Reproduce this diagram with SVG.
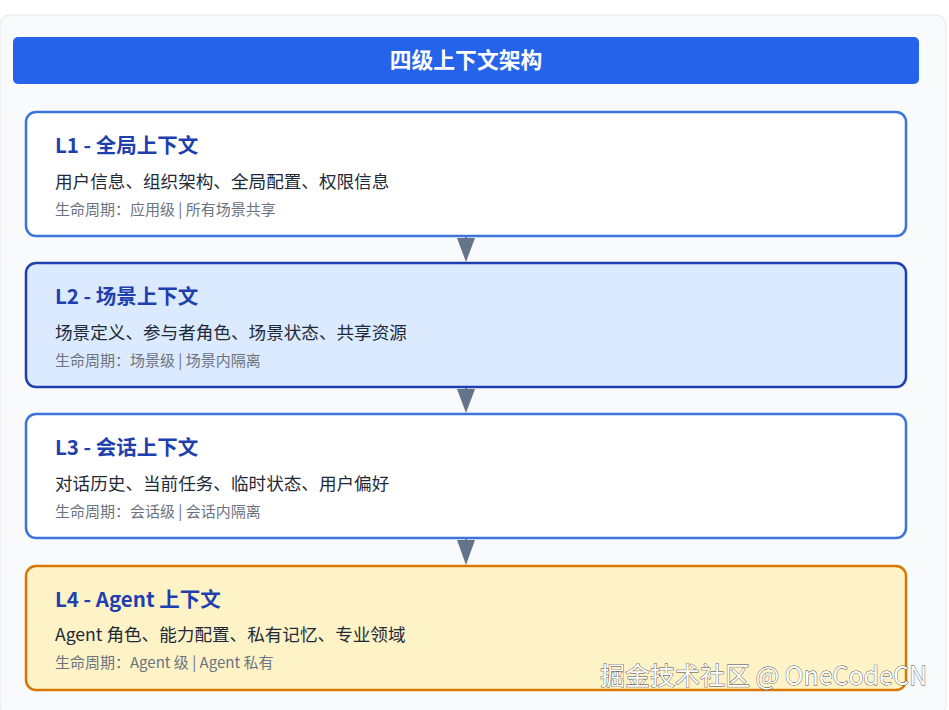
<svg xmlns="http://www.w3.org/2000/svg" width="949" height="710" viewBox="0 0 949 710">
<defs>
<style>
.t{font-family:"Noto Sans CJK SC","Noto Sans",sans-serif;font-size:20.5px;font-weight:700;fill:#1e40af}
.b{font-family:"Noto Sans CJK SC","Noto Sans",sans-serif;font-size:17.6px;fill:#1f2937}
.s{font-family:"Noto Sans CJK SC","Noto Sans",sans-serif;font-size:15px;fill:#6b7280}
.box{stroke-width:2.5}
.arr{fill:#64748b}
</style>
</defs>
<rect x="0" y="15" width="946" height="700" rx="10" fill="#f9fafb" stroke="#e5e7eb" stroke-width="1"/>
<g id="header">
<rect x="13" y="37" width="906" height="47" rx="5" fill="#2563eb"/>
<text x="466" y="68" text-anchor="middle" font-family="'Noto Sans CJK SC',sans-serif" font-size="21.8" font-weight="700" fill="#ffffff">四级上下文架构</text>
</g>
<g id="connectors">
<line x1="466" y1="237" x2="466" y2="245" stroke="#64748b" stroke-width="2"/>
<polygon class="arr" points="457,238 475,238 466,262"/>
<line x1="466" y1="388" x2="466" y2="396" stroke="#64748b" stroke-width="2"/>
<polygon class="arr" points="457,389 475,389 466,413"/>
<line x1="466" y1="539" x2="466" y2="547" stroke="#64748b" stroke-width="2"/>
<polygon class="arr" points="457,540 475,540 466,565"/>
</g>
<g id="L1">
<rect class="box" x="26" y="112" width="880" height="124" rx="10" fill="#ffffff" stroke="#3b74db"/>
<text class="t" x="55" y="153">L1 - 全局上下文</text>
<text class="b" x="55" y="188">用户信息、组织架构、全局配置、权限信息</text>
<text class="s" x="55" y="215">生命周期：应用级 | 所有场景共享</text>
</g>
<g id="L2">
<rect class="box" x="26" y="263" width="880" height="124" rx="10" fill="#dbeafe" stroke="#1e40af"/>
<text class="t" x="55" y="304">L2 - 场景上下文</text>
<text class="b" x="55" y="339">场景定义、参与者角色、场景状态、共享资源</text>
<text class="s" x="55" y="366">生命周期：场景级 | 场景内隔离</text>
</g>
<g id="L3">
<rect class="box" x="26" y="414" width="880" height="124" rx="10" fill="#ffffff" stroke="#3b74db"/>
<text class="t" x="55" y="455">L3 - 会话上下文</text>
<text class="b" x="55" y="490">对话历史、当前任务、临时状态、用户偏好</text>
<text class="s" x="55" y="517">生命周期：会话级 | 会话内隔离</text>
</g>
<g id="L4">
<rect class="box" x="26" y="566" width="880" height="124" rx="10" fill="#fef3c7" stroke="#d97706"/>
<text class="t" x="55" y="607">L4 - Agent 上下文</text>
<text class="b" x="55" y="641">Agent 角色、能力配置、私有记忆、专业领域</text>
<text class="s" x="55" y="668">生命周期：Agent 级 | Agent 私有</text>
</g>
<text x="600" y="685" font-family="'Noto Sans CJK SC',sans-serif" font-size="25" fill="#ffffff" stroke="#444444" stroke-width="0.8" paint-order="stroke">掘金技术社区 @ OneCodeCN</text>
</svg>
